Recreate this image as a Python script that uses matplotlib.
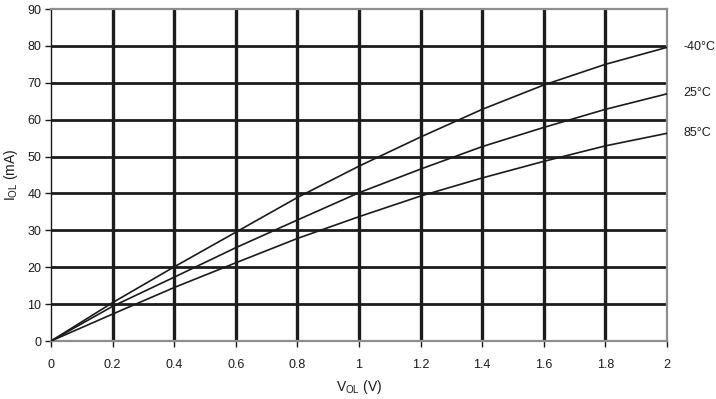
import matplotlib
matplotlib.use("Agg")
import matplotlib.pyplot as plt

plt.rcParams['font.family'] = ['Liberation Sans', 'DejaVu Sans']
plt.rcParams['mathtext.fontset'] = 'custom'
plt.rcParams['mathtext.rm'] = 'Liberation Sans'
plt.rcParams['mathtext.it'] = 'Liberation Sans'

v_ol = [0, 0.2, 0.4, 0.6, 0.8, 1.0, 1.2, 1.4, 1.6, 1.8, 2.0]
i_m40 = [0, 10.4, 20.1, 29.5, 38.9, 47.4, 55.3, 62.8, 69.4, 75.0, 79.6]
i_25 = [0, 9.4, 17.3, 25.3, 32.8, 40.2, 46.6, 52.7, 57.9, 62.8, 67.0]
i_85 = [0, 7.3, 14.5, 21.2, 27.8, 33.7, 39.3, 44.2, 48.7, 52.9, 56.3]
series_labels = ['-40°C', '25°C', '85°C']
x_ticks = [0, 0.2, 0.4, 0.6, 0.8, 1.0, 1.2, 1.4, 1.6, 1.8, 2.0]
x_tick_labels = ['0', '0.2', '0.4', '0.6', '0.8', '1', '1.2', '1.4', '1.6', '1.8', '2']
y_ticks = [0, 10, 20, 30, 40, 50, 60, 70, 80, 90]

fig = plt.figure(figsize=(7.16, 3.99), dpi=100)
ax = fig.add_axes([51/716, 58/399, 616/716, 332/399])

grid_c = '#1c1c1c'
for xv in x_ticks[1:-1]:
    ax.axvline(xv, color=grid_c, lw=2.4, zorder=1)
for yv in y_ticks[1:-1]:
    ax.axhline(yv, color=grid_c, lw=2.0, zorder=1)

for ys in (i_m40, i_25, i_85):
    ax.plot(v_ol, ys, color='#1a1a1a', lw=1.2, zorder=3, solid_capstyle='round')

for ys, lab in zip((i_m40, i_25, i_85), series_labels):
    ax.text(2.052, ys[-1] + 0.2, lab, fontsize=9, color='#1a1a1a',
            va='center', ha='left', clip_on=False)

ax.set_xlim(0, 2)
ax.set_ylim(0, 90)
ax.set_xticks(x_ticks)
ax.set_xticklabels(x_tick_labels)
ax.set_yticks(y_ticks)
ax.tick_params(axis='both', direction='out', length=4, width=1, colors='#1a1a1a',
               labelsize=9, pad=3)
ax.tick_params(axis='x', pad=9)

for side in ('top', 'right', 'bottom'):
    ax.spines[side].set_color('#8e8e8e')
    ax.spines[side].set_linewidth(1.6)
ax.spines['left'].set_color('#1a1a1a')
ax.spines['left'].set_linewidth(1.0)

ax.set_xlabel(r'V$_{\mathrm{OL}}$ (V)', fontsize=10, color='#1a1a1a', labelpad=5)
ax.set_ylabel(r'I$_{\mathrm{OL}}$ (mA)', fontsize=10, color='#1a1a1a', labelpad=5)

fig.savefig('out.png', dpi=100)
